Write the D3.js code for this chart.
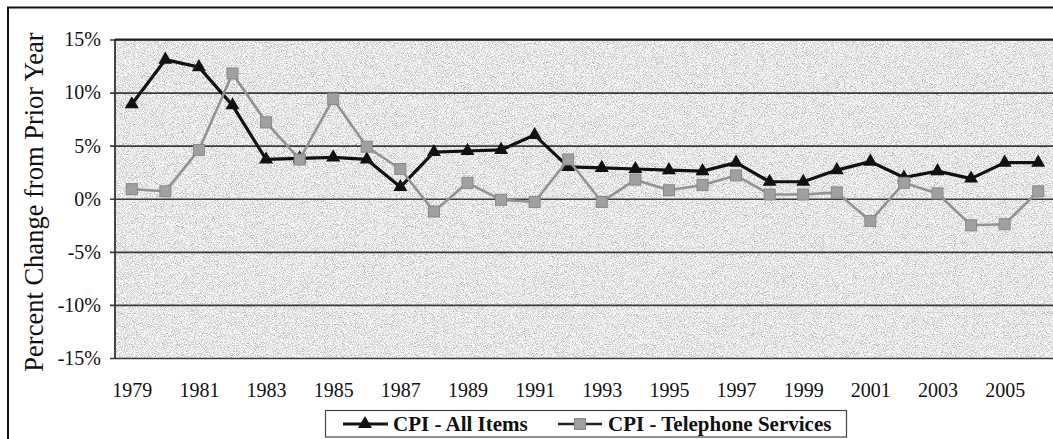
<!DOCTYPE html>
<html><head><meta charset="utf-8">
<script src="https://cdn.jsdelivr.net/npm/d3@7"></script>
<style>
body{margin:0;background:#fff}svg{display:block}
svg text{font-family:"Liberation Serif","Times New Roman",serif;fill:#111}
</style>
</head><body>
<svg id="c" width="1053" height="439"></svg>
<script>
const years = [1979,1980,1981,1982,1983,1984,1985,1986,1987,1988,1989,1990,1991,1992,1993,1994,1995,1996,1997,1998,1999,2000,2001,2002,2003,2004,2005,2006];
const allItems = [8.9,13.1,12.4,8.8,3.7,3.8,3.9,3.7,1.1,4.4,4.5,4.6,6.0,3.0,2.9,2.8,2.7,2.6,3.4,1.6,1.6,2.7,3.5,2.0,2.6,1.9,3.4,3.4];
const telephone = [0.9,0.7,4.6,11.8,7.2,3.7,9.4,4.9,2.8,-1.2,1.5,-0.1,-0.3,3.7,-0.3,1.8,0.8,1.3,2.2,0.4,0.4,0.6,-2.1,1.5,0.5,-2.5,-2.4,0.7];
const yTicks = [-15,-10,-5,0,5,10,15];
const xTickLabels = [1979,1981,1983,1985,1987,1989,1991,1993,1995,1997,1999,2001,2003,2005];
const seriesNames = ["CPI - All Items","CPI - Telephone Services"];

const svg = d3.select("#c");
const L = 115, R = 1055, T = 39.5, B = 358;
const x = d3.scalePoint().domain(years).range([L, R]).padding(0.5);
const y = d3.scaleLinear().domain([-15, 15]).range([B, T]);

const defs = svg.append("defs");
const f = defs.append("filter").attr("id","noise").attr("x",0).attr("y",0).attr("width","100%").attr("height","100%");
f.append("feTurbulence").attr("type","fractalNoise").attr("baseFrequency",1.1).attr("numOctaves",2).attr("seed",7).attr("result","t");
f.append("feColorMatrix").attr("in","t").attr("type","matrix")
 .attr("values","1.25 0 0 0 0.17  1.25 0 0 0 0.17  1.25 0 0 0 0.17  0 0 0 0 1").attr("result","n");
f.append("feComposite").attr("in","n").attr("in2","SourceGraphic").attr("operator","in");
const cp = defs.append("clipPath").attr("id","clip");
cp.append("rect").attr("x",L).attr("y",T).attr("width",R-L).attr("height",B-T);

// outer frame
svg.append("path").attr("d",`M8,${439+5} L8,7.5 L${1053+5},7.5`).attr("fill","none").attr("stroke","#111").attr("stroke-width",2);

// plot background
svg.append("rect").attr("x",L).attr("y",T).attr("width",R-L).attr("height",B-T).attr("fill","#c8c8c8");
svg.append("rect").attr("x",L).attr("y",T).attr("width",R-L).attr("height",B-T).attr("fill","#c8c8c8").attr("filter","url(#noise)");

// gridlines + y axis
const yAxis = d3.axisLeft(y).tickValues(yTicks).tickFormat(d => d + "%").tickSize(-(R - L)).tickPadding(10);
const gy = svg.append("g").attr("transform",`translate(${L},0)`).call(yAxis).attr("font-family",null);
gy.select(".domain").remove();
gy.selectAll(".tick line").attr("x1",-5).attr("x2",R-L).attr("stroke","#3a3a3a").attr("stroke-width",1.6);
gy.selectAll(".tick text").attr("x",-14).attr("font-size",20);

// plot border
svg.append("line").attr("x1",L).attr("x2",L).attr("y1",T).attr("y2",B).attr("stroke","#333").attr("stroke-width",1.8);
svg.append("line").attr("x1",L).attr("x2",R).attr("y1",T).attr("y2",T).attr("stroke","#222").attr("stroke-width",2.2);

// x axis
const xAxis = d3.axisBottom(x).tickValues(xTickLabels).tickSize(0).tickPadding(0);
const gx = svg.append("g").attr("transform",`translate(0,${B})`).call(xAxis).attr("font-family",null);
gx.select(".domain").remove();
gx.selectAll(".tick text").attr("y",25).attr("dy","0.71em").attr("font-size",20);

// y label
svg.append("text").attr("transform","translate(43,202) rotate(-90)").attr("text-anchor","middle")
  .attr("font-size",26.5).text("Percent Change from Prior Year");

const line = d3.line().x((d,i) => x(years[i])).y(d => y(d));
const gPlot = svg.append("g").attr("clip-path","url(#clip)");
const tri = d3.symbol().type(d3.symbolTriangle).size(85);

function drawBlack(g, pts){
  g.selectAll(null).data(pts).enter().append("path").attr("d",tri)
    .attr("transform",d=>`translate(${d[0]},${d[1]})`).attr("fill","#111");
}
function drawGray(g, pts){
  g.selectAll(null).data(pts).enter().append("rect")
    .attr("x",d=>d[0]-5.5).attr("y",d=>d[1]-5.5).attr("width",11).attr("height",11)
    .attr("fill","#a0a0a0").attr("stroke","#888").attr("stroke-width",1);
}

gPlot.append("path").datum(allItems).attr("d",line).attr("fill","none").attr("stroke","#111").attr("stroke-width",3.2).attr("stroke-linejoin","round");
drawBlack(gPlot, allItems.map((v,i)=>[x(years[i]), y(v)]));
gPlot.append("path").datum(telephone).attr("d",line).attr("fill","none").attr("stroke","#929292").attr("stroke-width",2.6).attr("stroke-linejoin","round");
drawGray(gPlot, telephone.map((v,i)=>[x(years[i]), y(v)]));

// legend
const lg = svg.append("g");
lg.append("rect").attr("x",325.5).attr("y",410.5).attr("width",521).attr("height",26.5).attr("fill","#fff").attr("stroke","#444").attr("stroke-width",1.2);
const ly = 424;
lg.append("line").attr("x1",343).attr("x2",388).attr("y1",ly).attr("y2",ly).attr("stroke","#111").attr("stroke-width",3);
drawBlack(lg, [[365, ly]]);
lg.append("text").attr("x",393).attr("y",ly).attr("dy","0.35em").attr("font-weight","bold").attr("font-size",21).text(seriesNames[0]);
lg.append("line").attr("x1",558).attr("x2",602).attr("y1",ly).attr("y2",ly).attr("stroke","#222").attr("stroke-width",2.6);
drawGray(lg, [[580, ly]]);
lg.append("text").attr("x",608).attr("y",ly).attr("dy","0.35em").attr("font-weight","bold").attr("font-size",21).text(seriesNames[1]);
</script>
</body></html>
